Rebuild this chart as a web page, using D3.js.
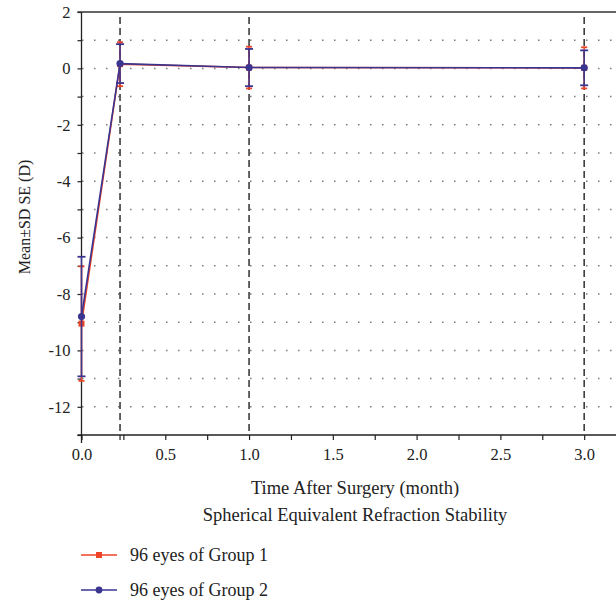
<!DOCTYPE html>
<html><head><meta charset="utf-8">
<script src="https://cdn.jsdelivr.net/npm/d3@7"></script>
<style>body{margin:0;background:#fff}svg text{font-family:"Liberation Serif","DejaVu Serif",serif;fill:#222}</style>
</head><body><svg id="c" width="616" height="606"></svg>
<script>
const times = [0, 0.23, 1, 3];
const group1Mean = [-9.05, 0.15, 0.03, 0.02];
const group1SD = [2.03, 0.78, 0.74, 0.73];
const group2Mean = [-8.80, 0.17, 0.03, 0.02];
const group2SD = [2.12, 0.69, 0.66, 0.62];
const seriesNames = ["96 eyes of Group 1", "96 eyes of Group 2"];
const seriesColors = ["#ee4326", "#3a3590"];
const xTicks = [0, 0.5, 1, 1.5, 2, 2.5, 3];
const yTicks = [2, 0, -2, -4, -6, -8, -10, -12];
const refLines = [0.23, 1, 3];

const svg = d3.select("#c");
const x = d3.scaleLinear().domain([0, 3.19]).range([81.5, 616]);
const y = d3.scaleLinear().domain([-13, 2]).range([435, 12]);

// horizontal dotted grid
const gridVals = d3.range(-12, 2);
svg.append("g").selectAll("line").data(gridVals).join("line")
  .attr("x1", x(0)).attr("x2", 616).attr("y1", d => y(d)).attr("y2", d => y(d))
  .attr("stroke", "#7a7a7a").attr("stroke-width", 1.5)
  .attr("stroke-dasharray", "1.5,10.5").attr("stroke-dashoffset", -12.5);

// dashed reference lines
svg.append("g").selectAll("line").data(refLines).join("line")
  .attr("x1", d => x(d)).attr("x2", d => x(d)).attr("y1", 17).attr("y2", y(-13))
  .attr("stroke", "#222").attr("stroke-width", 1.4).attr("stroke-dasharray", "7,4");

// y axis
const yAxis = d3.axisLeft(y).tickValues(d3.range(-13, 3)).tickSize(4)
  .tickFormat(d => yTicks.includes(d) ? String(d) : "");
const gy = svg.append("g").attr("transform", `translate(${x(0)},0)`).call(yAxis).attr("font-family", null).attr("font-size", null);
gy.select(".domain").attr("d", `M0,${y(2)}V${y(-13) + 8}`).attr("stroke", "#222").attr("stroke-width", 1.3);
gy.selectAll(".tick line").attr("stroke", "#222").attr("stroke-width", 1.2);
gy.selectAll(".tick text").attr("x", -11).attr("font-size", 16.5).attr("fill", "#222");

// top line
svg.append("line").attr("x1", x(0) - 4).attr("x2", 616).attr("y1", y(2)).attr("y2", y(2))
  .attr("stroke", "#333").attr("stroke-width", 1.5);

// x axis
const xAxis = d3.axisBottom(x).tickValues(d3.range(0, 3.2, 0.25)).tickSize(5)
  .tickFormat(d => xTicks.some(t => Math.abs(t - d) < 1e-9) ? d3.format(".1f")(d) : "");
const gx = svg.append("g").attr("transform", `translate(0,${y(-13)})`).call(xAxis).attr("font-family", null).attr("font-size", null);
gx.select(".domain").attr("d", `M${x(0) - 4},0H616`).attr("stroke", "#222").attr("stroke-width", 1.3);
gx.selectAll(".tick line").attr("stroke", "#222").attr("stroke-width", 1.2);
gx.selectAll(".tick text").attr("y", 13).attr("font-size", 16.5).attr("fill", "#222");
gx.append("line").attr("x1", x(0.23)).attr("x2", x(0.23)).attr("y1", 0).attr("y2", 5).attr("stroke", "#222").attr("stroke-width", 1.2);

// axis titles
svg.append("text").attr("x", 355).attr("y", 494).attr("text-anchor", "middle").attr("font-size", 18.5)
  .text("Time After Surgery (month)");
svg.append("text").attr("x", 355).attr("y", 521).attr("text-anchor", "middle").attr("font-size", 18.5)
  .text("Spherical Equivalent Refraction Stability");
svg.append("text").attr("transform", "translate(30,217) rotate(-90)").attr("text-anchor", "middle").attr("font-size", 16)
  .text("Mean±SD SE (D)");

// series
const series = [
  {mean: group1Mean, sd: group1SD, color: seriesColors[0], cap: 6, marker: "square"},
  {mean: group2Mean, sd: group2SD, color: seriesColors[1], cap: 8, marker: "circle"}
];
const line = d3.line().x(d => x(d.t)).y(d => y(d.m));
series.forEach(s => {
  const pts = times.map((t, i) => ({t, m: s.mean[i], sd: s.sd[i]}));
  const g = svg.append("g");
  g.selectAll("line.eb").data(pts).join("line").attr("class", "eb")
    .attr("x1", d => x(d.t)).attr("x2", d => x(d.t))
    .attr("y1", d => y(d.m + d.sd)).attr("y2", d => y(d.m - d.sd))
    .attr("stroke", s.color).attr("stroke-width", 1.5);
  [["capHi", 1], ["capLo", -1]].forEach(([cls, sign]) => {
    g.selectAll("line." + cls).data(pts).join("line").attr("class", cls)
      .attr("x1", d => x(d.t) - s.cap / 2).attr("x2", d => x(d.t) + s.cap / 2)
      .attr("y1", d => y(d.m + sign * d.sd))
      .attr("y2", d => y(d.m + sign * d.sd))
      .attr("stroke", s.color).attr("stroke-width", 1.8);
  });
  g.append("path").datum(pts).attr("d", line).attr("fill", "none").attr("stroke", s.color).attr("stroke-width", 1.6);
  if (s.marker === "square") {
    g.selectAll("rect.mk").data(pts).join("rect").attr("class", "mk")
      .attr("x", d => x(d.t) - 3).attr("y", d => y(d.m) - 3).attr("width", 6).attr("height", 6).attr("fill", s.color);
  } else {
    g.selectAll("circle.mk").data(pts).join("circle").attr("class", "mk")
      .attr("cx", d => x(d.t)).attr("cy", d => y(d.m)).attr("r", 3.6).attr("fill", s.color);
  }
});

// legend
const legY = [555, 590];
series.forEach((s, i) => {
  const g = svg.append("g").attr("transform", `translate(0,${legY[i]})`);
  g.append("line").attr("x1", 81).attr("x2", 117).attr("stroke", s.color).attr("stroke-width", 1.6);
  if (s.marker === "square") g.append("rect").attr("x", 96).attr("y", -3).attr("width", 6).attr("height", 6).attr("fill", s.color);
  else g.append("circle").attr("cx", 99).attr("r", 3.4).attr("fill", s.color);
  g.append("text").attr("x", 130).attr("y", 5.5).attr("font-size", 18).text(seriesNames[i]);
});
</script></body></html>
